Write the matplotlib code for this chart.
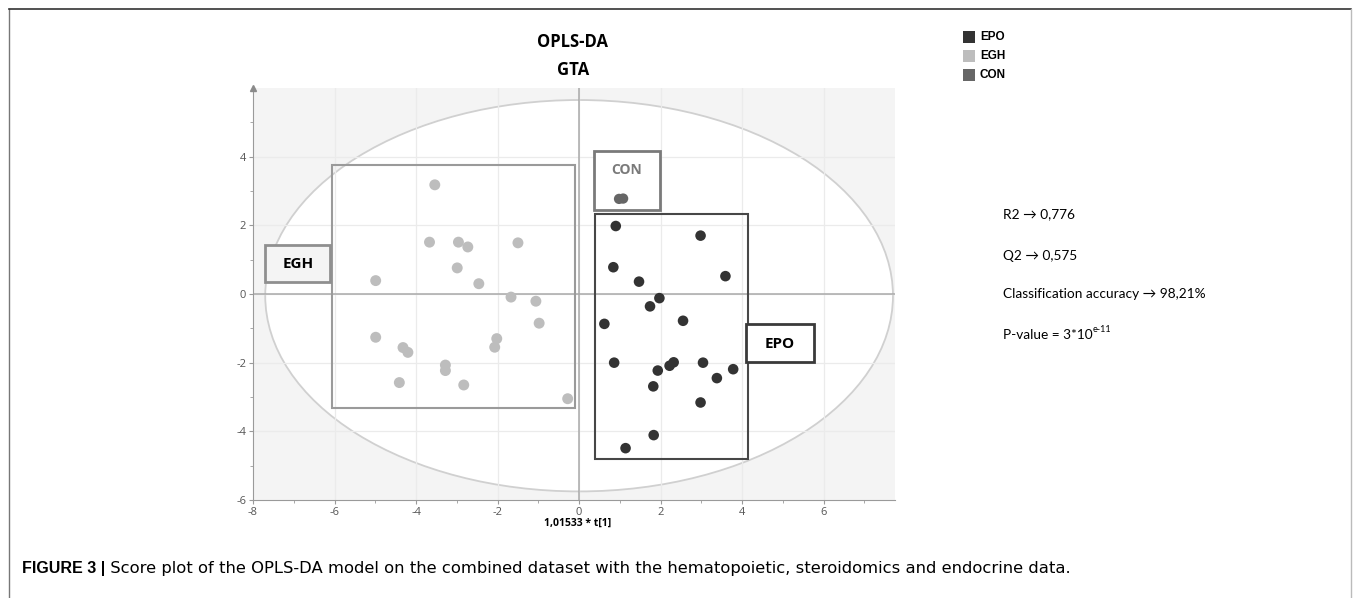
import matplotlib.pyplot as plt
from matplotlib.patches import Ellipse, Rectangle
from matplotlib.lines import Line2D

plt.rcParams["axes.unicode_minus"] = False

# ---------------- data ----------------
groups = ["EPO", "EGH", "CON"]
group_colors = ["#333333", "#bdbdbd", "#666666"]

egh_x = [-3.54, -3.67, -2.96, -2.73, -1.50, -2.99, -4.99, -2.46, -1.67, -1.06, -0.98,
         -4.99, -4.32, -4.20, -2.02, -2.07, -3.28, -3.28, -4.41, -2.83, -0.28]
egh_y = [3.18, 1.51, 1.51, 1.37, 1.49, 0.76, 0.39, 0.30, -0.09, -0.21, -0.85,
         -1.26, -1.56, -1.70, -1.30, -1.55, -2.07, -2.23, -2.58, -2.65, -3.05]

epo_x = [0.90, 2.98, 0.84, 3.59, 1.47, 1.97, 1.74, 0.62, 2.55, 0.86,
         1.93, 2.22, 2.32, 3.04, 3.78, 3.38, 1.82, 2.98, 1.83, 1.14]
epo_y = [1.98, 1.70, 0.78, 0.52, 0.36, -0.12, -0.36, -0.87, -0.78, -2.00,
         -2.23, -2.09, -1.99, -2.00, -2.19, -2.45, -2.69, -3.16, -4.11, -4.49]

con_x = [0.98, 1.08]
con_y = [2.77, 2.78]

stats_lines = ["R2 \u2192 0,776", "Q2 \u2192 0,575",
               "Classification accuracy \u2192 98,21%", "P-value = 3*10"]
x_label = "1,01533 * t[1]"
caption_bold = "FIGURE 3 |"
caption_text = (" Score plot of the OPLS-DA model on the combined dataset with the "
                "hematopoietic, steroidomics and endocrine data.")

W, H = 1355, 598


def fx(px):
    return px / W


def fy(py):
    return 1 - py / H


# ---------------- figure ----------------
fig = plt.figure(figsize=(W / 100, H / 100), dpi=100)
ax = fig.add_axes([fx(253), fy(500), (895 - 253) / W, (500 - 88) / H])
ax.set_xlim(-8, 7.75)
ax.set_ylim(-6, 6.0)
ax.set_facecolor("#f4f4f4")

# confidence ellipse
ax.add_patch(Ellipse((0, -0.05), 15.4, 11.4, facecolor="white",
                     edgecolor="#d0d0d0", lw=1.3, zorder=1))

# grid
for v in range(-6, 8, 2):
    ax.axvline(v, color="#ebebeb", lw=0.9, zorder=1.5)
for v in range(-4, 6, 2):
    ax.axhline(v, color="#ebebeb", lw=0.9, zorder=1.5)
ax.axhline(0, color="#a9a9a9", lw=1.1, zorder=2)
ax.axvline(0, color="#a9a9a9", lw=1.1, zorder=2)

# group boxes
ax.add_patch(Rectangle((-6.07, -3.32), 5.97, 7.08, fill=False,
                       ec="#9a9a9a", lw=1.5, zorder=3))
ax.add_patch(Rectangle((0.38, -4.81), 3.77, 7.14, fill=False,
                       ec="#474747", lw=1.5, zorder=3))
ax.add_patch(Rectangle((0.37, 2.45), 1.61, 1.72, facecolor="white",
                       ec="#7a7a7a", lw=2, zorder=3))
ax.add_patch(Rectangle((-7.7, 0.35), 1.6, 1.08, facecolor="#f4f4f4",
                       ec="#8f8f8f", lw=2, zorder=3))
ax.add_patch(Rectangle((4.1, -1.98), 1.66, 1.11, facecolor="white",
                       ec="#3a3a3a", lw=2, zorder=3))

box_font = ["Open Sans", "DejaVu Sans"]
ax.text(-6.9, 0.86, "EGH", ha="center", va="center", fontsize=11,
        weight="bold", family=box_font, zorder=4)
ax.text(4.93, -1.45, "EPO", ha="center", va="center", fontsize=11,
        weight="bold", family=box_font, zorder=4)
ax.text(1.17, 3.62, "CON", ha="center", va="center", fontsize=10,
        weight="bold", color="#7a7a7a", family=box_font, zorder=4)

# points
ax.scatter(egh_x, egh_y, s=62, color=group_colors[1], edgecolors="none", zorder=5)
ax.scatter(epo_x, epo_y, s=58, color=group_colors[0], edgecolors="none", zorder=5)
ax.scatter(con_x, con_y, s=55, color=group_colors[2], edgecolors="none", zorder=5)

# axes styling
for side in ["top", "right"]:
    ax.spines[side].set_visible(False)
for side in ["left", "bottom"]:
    ax.spines[side].set_color("#9a9a9a")
ax.set_xticks(range(-8, 8, 2))
ax.set_xticks(range(-7, 8, 2), minor=True)
ax.set_yticks(range(-6, 6, 2))
ax.set_yticks(range(-5, 6, 2), minor=True)
ax.tick_params(which="both", colors="#9a9a9a", labelcolor="#555555",
               labelsize=8, length=3, pad=2)
ax.tick_params(which="minor", length=2)
for lbl in ax.get_xticklabels() + ax.get_yticklabels():
    lbl.set_family(box_font)
ax.plot([-8], [6.0], marker="^", ms=5, color="#8a8a8a", clip_on=False, zorder=6)

# titles and labels
fig.text(fx(573), fy(42), "OPLS-DA", ha="center", va="center", fontsize=12,
         weight="bold", family=box_font)
fig.text(fx(573), fy(70), "GTA", ha="center", va="center", fontsize=12,
         weight="bold", family=box_font)
fig.text(fx(578), fy(523), x_label, ha="center", va="center", fontsize=7.5,
         weight="bold", family=box_font)

# legend
for i, (g, c) in enumerate(zip(groups, group_colors)):
    y0 = 37 + 19 * i
    fig.add_artist(Rectangle((fx(963), fy(y0 + 6)), 12 / W, 12 / H,
                             transform=fig.transFigure, facecolor=c, edgecolor="none"))
    fig.text(fx(980), fy(y0), g, va="center", fontsize=8.5, weight="bold",
             family=["Liberation Sans", "DejaVu Sans"])

# model statistics
stat_font = ["Lato", "DejaVu Sans"]
for s, py in zip(stats_lines, [214, 256, 294, 335]):
    t = fig.text(fx(1003), fy(py), s, va="center", fontsize=9.8, family=stat_font)
ax.annotate("e-11", xy=(1, 0.62), xycoords=t, va="bottom", ha="left",
            fontsize=6.5, family=stat_font)

# frame and caption
fig.add_artist(Line2D([fx(9), fx(9)], [0, fy(9)], transform=fig.transFigure,
                      color="#777777", lw=1))
fig.add_artist(Line2D([fx(9), fx(1351)], [fy(9), fy(9)], transform=fig.transFigure,
                      color="#333333", lw=1.2))
fig.add_artist(Line2D([fx(1351), fx(1351)], [fy(9), 0], transform=fig.transFigure,
                      color="#bbbbbb", lw=1))
cb = fig.text(fx(22), fy(568), caption_bold, va="center", fontsize=11.5,
              weight="bold", family=["Liberation Sans", "DejaVu Sans"])
ax.annotate(caption_text, xy=(1, 0), xycoords=cb, va="bottom", ha="left",
            fontsize=11.8, family=["DejaVu Sans"])

fig.savefig("out.png", dpi=100)
